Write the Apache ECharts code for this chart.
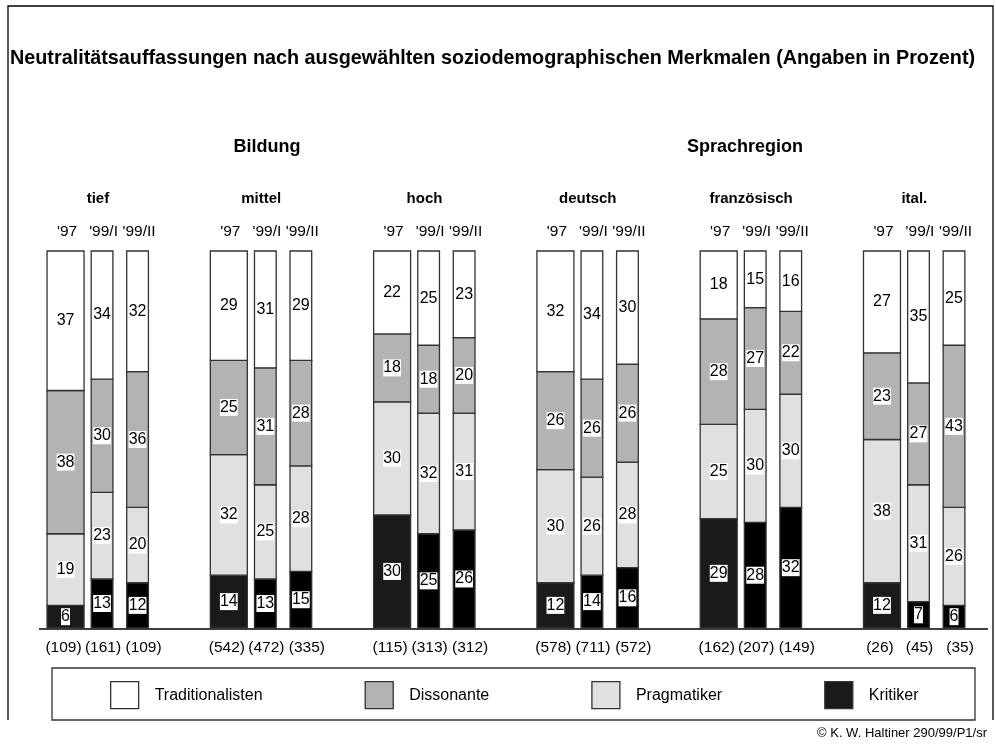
<!DOCTYPE html>
<html>
<head>
<meta charset="utf-8">
<script src="https://cdn.jsdelivr.net/npm/echarts@6/dist/echarts.min.js"></script>
<style>
  html, body { margin: 0; padding: 0; background: #fff; }
  #chart { width: 996px; height: 747px; }
</style>
</head>
<body>
<div id="chart"></div>
<script>
// Gruppen und Befragungswellen
const groups = ['tief', 'mittel', 'hoch', 'deutsch', 'französisch', 'ital.'];
const waves = ["'97", "'99/I", "'99/II"];

// Fallzahlen je Gruppe / Welle
const sampleSizes = [[109, 161, 109], [542, 472, 335], [115, 313, 312], [578, 711, 572], [162, 207, 149], [26, 45, 35]];

// Anteile in Prozent, je Gruppe: ['97, '99/I, '99/II]
const kritiker = [[6, 13, 12], [14, 13, 15], [30, 25, 26], [12, 14, 16], [29, 28, 32], [12, 7, 6]];
const pragmatiker = [[19, 23, 20], [32, 25, 28], [30, 32, 31], [30, 26, 28], [25, 30, 30], [38, 31, 26]];
const dissonante = [[38, 30, 36], [25, 31, 28], [18, 18, 20], [26, 26, 26], [28, 27, 22], [23, 27, 43]];
const traditionalisten = [[37, 34, 32], [29, 31, 29], [22, 25, 23], [32, 34, 30], [18, 15, 16], [27, 35, 25]];

const FONT = '"Liberation Sans", Arial, sans-serif';
const BAND = 165.5;                 // Breite einer Gruppe in px
const WAVE_OFFSET = [-32.8, 4.2, 40.2];
const WAVE_WIDTH = [37.5, 22, 22];
const COUNT_SHIFT = [-2, 1, 6];     // Fallzahlen leicht versetzt wie im Original

// Stapelreihenfolge von unten nach oben
const layers = [
    { name: 'Kritiker', values: kritiker, color: '#1a1a1a' },
    { name: 'Pragmatiker', values: pragmatiker, color: '#e0e0e0' },
    { name: 'Dissonante', values: dissonante, color: '#b3b3b3' },
    { name: 'Traditionalisten', values: traditionalisten, color: '#ffffff' }
];

function barGeom(api, g, w) {
    const c = api.coord([g, 0]);
    const scale = api.size([1, 0])[0] / BAND;
    return { xc: c[0] + WAVE_OFFSET[w] * scale, bw: WAVE_WIDTH[w] * scale };
}

// kumulierte Stapel berechnen
const base = groups.map(() => waves.map(() => 0));
const series = layers.map((layer, li) => {
    const data = [];
    groups.forEach((g, gi) => {
        waves.forEach((wv, wi) => {
            const v = layer.values[gi][wi];
            const y0 = base[gi][wi];
            base[gi][wi] += v;
            data.push([gi, wi, y0, y0 + v, v]);
        });
    });
    return {
        name: layer.name,
        type: 'custom',
        itemStyle: { color: layer.color },
        data: data,
        renderItem: function (params, api) {
            const g = api.value(0), w = api.value(1);
            const top = api.coord([g, api.value(3)]);
            const bottom = api.coord([g, api.value(2)]);
            const geo = barGeom(api, g, w);
            let fill = layer.color;
            if (layer.name === 'Kritiker' && w > 0) fill = '#000000';
            return {
                type: 'group',
                children: [
                    {
                        type: 'rect',
                        shape: { x: geo.xc - geo.bw / 2, y: top[1], width: geo.bw, height: bottom[1] - top[1] },
                        style: { fill: fill, stroke: '#333', lineWidth: 1.3 }
                    },
                    {
                        type: 'text',
                        z2: 10,
                        x: geo.xc,
                        y: (top[1] + bottom[1]) / 2,
                        style: {
                            text: String(api.value(4)),
                            fill: '#000',
                            fontSize: 16,
                            fontFamily: FONT,
                            align: 'center',
                            verticalAlign: 'middle',
                            backgroundColor: '#fff',
                            padding: [1, 0, 0, 0]
                        }
                    }
                ]
            };
        }
    };
});

// Wellen-Beschriftung oben und Fallzahlen unten
const labelData = [];
groups.forEach((g, gi) => {
    waves.forEach((wv, wi) => {
        labelData.push([gi, wi, sampleSizes[gi][wi]]);
    });
});
series.push({
    name: 'labels',
    type: 'custom',
    silent: true,
    data: labelData,
    renderItem: function (params, api) {
        const g = api.value(0), w = api.value(1);
        const top = api.coord([g, 100]);
        const bottom = api.coord([g, 0]);
        const geo = barGeom(api, g, w);
        return {
            type: 'group',
            children: [
                {
                    type: 'text', x: geo.xc + 1.5, y: top[1] - 19,
                    style: { text: waves[w], fill: '#000', fontSize: 15.5, fontFamily: FONT, align: 'center', verticalAlign: 'middle' }
                },
                {
                    type: 'text', x: geo.xc + COUNT_SHIFT[w], y: bottom[1] + 20,
                    style: { text: '(' + api.value(2) + ')', fill: '#000', fontSize: 15.5, fontFamily: FONT, align: 'center', verticalAlign: 'middle' }
                }
            ]
        };
    }
});

const chart = echarts.init(document.getElementById('chart'));
chart.setOption({
    backgroundColor: '#fff',
    animation: false,
    title: [
        {
            text: 'Neutralitätsauffassungen nach ausgewählten soziodemographischen Merkmalen (Angaben in Prozent)',
            left: 10, top: 49, padding: 0,
            textStyle: { fontSize: 19.8, fontWeight: 'bold', fontFamily: FONT, color: '#000' }
        },
        {
            text: 'Bildung', left: 267, top: 138, padding: 0, textAlign: 'center',
            textStyle: { fontSize: 18, fontWeight: 'bold', fontFamily: FONT, color: '#000' }
        },
        {
            text: 'Sprachregion', left: 745, top: 138, padding: 0, textAlign: 'center',
            textStyle: { fontSize: 18, fontWeight: 'bold', fontFamily: FONT, color: '#000' }
        }
    ],
    legend: {
        left: 110, top: 681, padding: 0,
        itemWidth: 28, itemHeight: 27, itemGap: 102,
        icon: 'rect',
        selectedMode: false,
        textStyle: { fontSize: 16, fontFamily: FONT, color: '#000', padding: [0, 0, 0, 11] },
        data: [
            { name: 'Traditionalisten', itemStyle: { color: '#ffffff', borderColor: '#333', borderWidth: 1.3 } },
            { name: 'Dissonante', itemStyle: { color: '#b3b3b3', borderColor: '#333', borderWidth: 1.3 } },
            { name: 'Pragmatiker', itemStyle: { color: '#e0e0e0', borderColor: '#333', borderWidth: 1.3 } },
            { name: 'Kritiker', itemStyle: { color: '#1a1a1a', borderColor: '#333', borderWidth: 1.3 } }
        ]
    },
    grid: { left: 16.25, top: 251, width: 993, height: 377 },
    xAxis: {
        type: 'category',
        position: 'top',
        data: groups,
        axisLine: { show: false },
        axisTick: { show: false },
        axisLabel: { margin: 45, fontSize: 15, fontWeight: 'bold', fontFamily: FONT, color: '#000' }
    },
    yAxis: { type: 'value', min: 0, max: 100, show: false },
    graphic: [
        { type: 'line', shape: { x1: 39, y1: 629, x2: 988, y2: 629 }, style: { stroke: '#000', lineWidth: 1.3 } },
        { type: 'rect', shape: { x: 52, y: 668, width: 923, height: 52 }, style: { fill: 'none', stroke: '#333', lineWidth: 1.3 } },
        { type: 'polyline', shape: { points: [[8, 720], [8, 6], [993, 6], [993, 720]] }, style: { fill: 'none', stroke: '#000', lineWidth: 1.3 } },
        { type: 'text', x: 987, y: 733, style: { text: '© K. W. Haltiner 290/99/P1/sr', fontSize: 13, fontFamily: FONT, fill: '#000', align: 'right', verticalAlign: 'middle' } }
    ],
    series: series
});
window.addEventListener('resize', () => chart.resize());
</script>
</body>
</html>
